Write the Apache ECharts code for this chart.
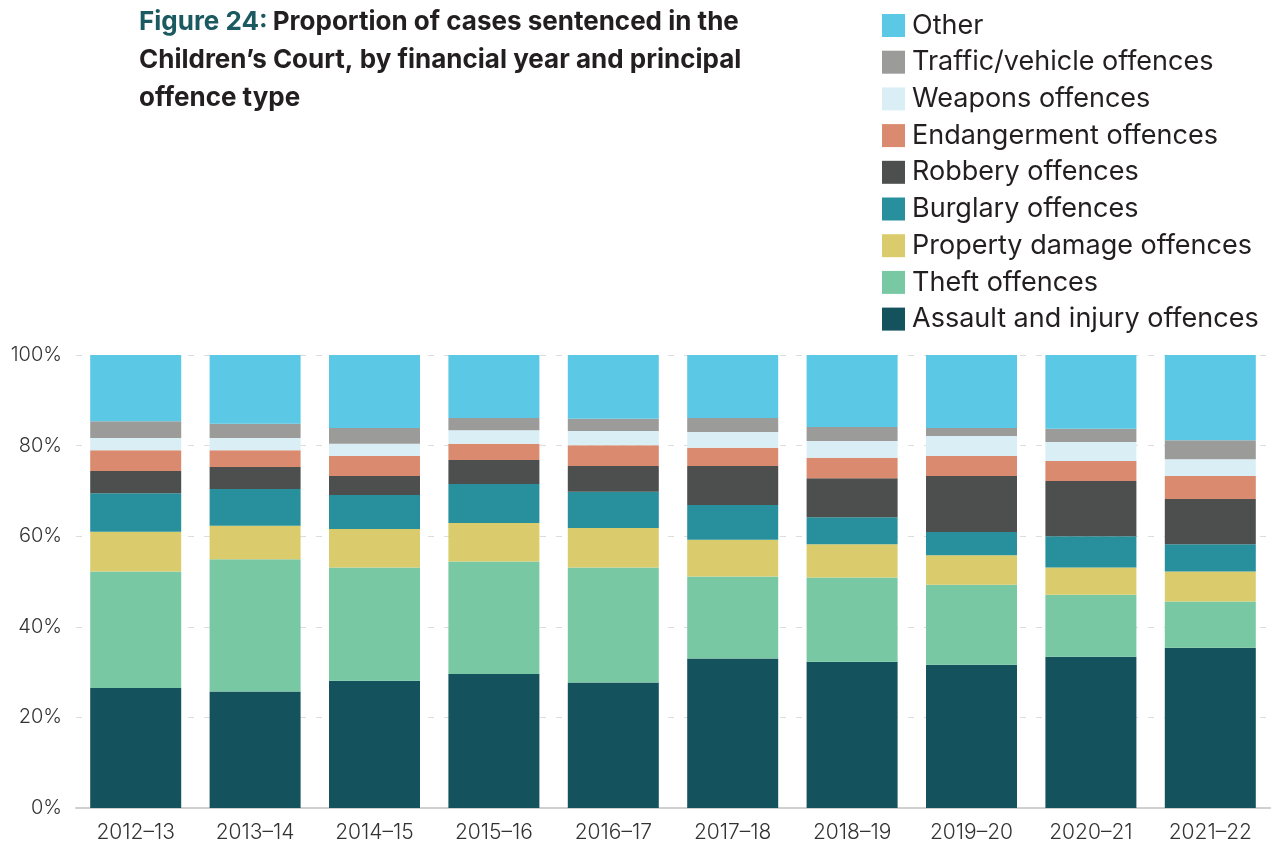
<!DOCTYPE html>
<html>
<head>
<meta charset="utf-8">
<title>Figure 24</title>
<script src="https://cdn.jsdelivr.net/npm/echarts@6/dist/echarts.min.js"></script>
<style>
  html, body { margin: 0; padding: 0; background: #fff; }
  #sentencedChart { width: 1278px; height: 845px; }
</style>
</head>
<body>
<div id="sentencedChart"></div>
<script>
// 财年
var years = ['2012–13', '2013–14', '2014–15', '2015–16', '2016–17', '2017–18', '2018–19', '2019–20', '2020–21', '2021–22'];
var yTicks = ['0%', '20%', '40%', '60%', '80%', '100%'];

// 各罪类占比 (%)，自下而上
var assault   = [26.5, 25.7, 28.1, 29.6, 27.7, 33.0, 32.3, 31.6, 33.4, 35.4];
var theft     = [25.7, 29.2, 25.0, 24.8, 25.4, 18.1, 18.6, 17.7, 13.7, 10.2];
var property  = [8.8, 7.4, 8.5, 8.5, 8.7, 8.1, 7.3, 6.5, 6.0, 6.6];
var burglary  = [8.5, 8.1, 7.5, 8.6, 8.0, 7.7, 6.0, 5.1, 6.9, 6.0];
var robbery   = [4.9, 4.9, 4.2, 5.3, 5.7, 8.6, 8.6, 12.4, 12.2, 10.0];
var endanger  = [4.6, 3.7, 4.4, 3.6, 4.6, 4.0, 4.5, 4.4, 4.4, 5.1];
var weapons   = [2.7, 2.7, 2.7, 3.0, 3.1, 3.5, 3.7, 4.4, 4.2, 3.7];
var traffic   = [3.7, 3.1, 3.5, 2.7, 2.7, 3.1, 3.1, 1.8, 2.9, 4.2];
var other     = [14.6, 15.2, 16.1, 13.9, 14.1, 13.9, 15.9, 16.1, 16.3, 18.8];

var seriesNames = ['Assault and injury offences', 'Theft offences', 'Property damage offences', 'Burglary offences',
	'Robbery offences', 'Endangerment offences', 'Weapons offences', 'Traffic/vehicle offences', 'Other'];
var seriesData = [assault, theft, property, burglary, robbery, endanger, weapons, traffic, other];
var seriesColors = ['#14525d', '#78c8a4', '#dacc6c', '#28909c', '#4d4e4e', '#da8a6e', '#daeff5', '#9b9b9a', '#5bc8e6'];

var fontName = 'Inter, "Open Sans", sans-serif';

sentencedCount();

// 儿童法院判决案件比例
function sentencedCount() {
	var myChart = echarts.init(document.getElementById('sentencedChart'));

	var series = [];
	for (var i = 0; i < seriesNames.length; i++) {
		series.push({
			name: seriesNames[i],
			type: 'bar',
			stack: 'total',
			barWidth: 91,
			itemStyle: { color: seriesColors[i] },
			data: seriesData[i]
		});
	}

	var option = {
		animation: false,
		title: {
			show: true,
			left: 134,
			top: -2,
			text: '{fig|Figure 24:} {b|Proportion of cases sentenced in the}\n{b|Children’s Court, by financial year and principal}\n{b|offence type}',
			textStyle: {
				rich: {
					fig: { color: '#1b5a60', fontSize: 26, fontWeight: 'bold', fontFamily: fontName, lineHeight: 38 },
					b: { color: '#231f20', fontSize: 26, fontWeight: 'bold', fontFamily: fontName, lineHeight: 38 }
				}
			}
		},
		legend: {
			orient: 'vertical',
			left: 877,
			top: 7,
			itemWidth: 23,
			itemHeight: 23,
			itemGap: 9.7,
			icon: 'rect',
			data: seriesNames.slice().reverse(),
			textStyle: {
				color: '#231f20',
				fontSize: 27,
				lineHeight: 26,
				fontFamily: fontName,
				padding: [0, 0, 0, 2]
			}
		},
		grid: {
			left: 76,
			right: 8,
			top: 355,
			bottom: 37,
			containLabel: false
		},
		xAxis: [{
			type: 'category',
			data: years,
			axisTick: { show: false },
			axisLine: { lineStyle: { color: '#d0d0d0', width: 2 } },
			axisLabel: {
				color: '#333',
				fontSize: 21,
				fontWeight: 300,
				fontFamily: fontName,
				margin: 14
			}
		}],
		yAxis: [{
			type: 'value',
			min: 0,
			max: 100,
			interval: 20,
			axisLine: { show: false },
			axisTick: { show: false },
			splitLine: { lineStyle: { color: '#dddddd', type: [6, 10], width: 1 } },
			axisLabel: {
				color: '#333',
				fontSize: 20,
				fontWeight: 300,
				fontFamily: fontName,
				margin: 14,
				formatter: function (v) { return yTicks[v / 20]; }
			}
		}],
		series: series
	};
	myChart.clear();
	myChart.setOption(option);
}
</script>
</body>
</html>
